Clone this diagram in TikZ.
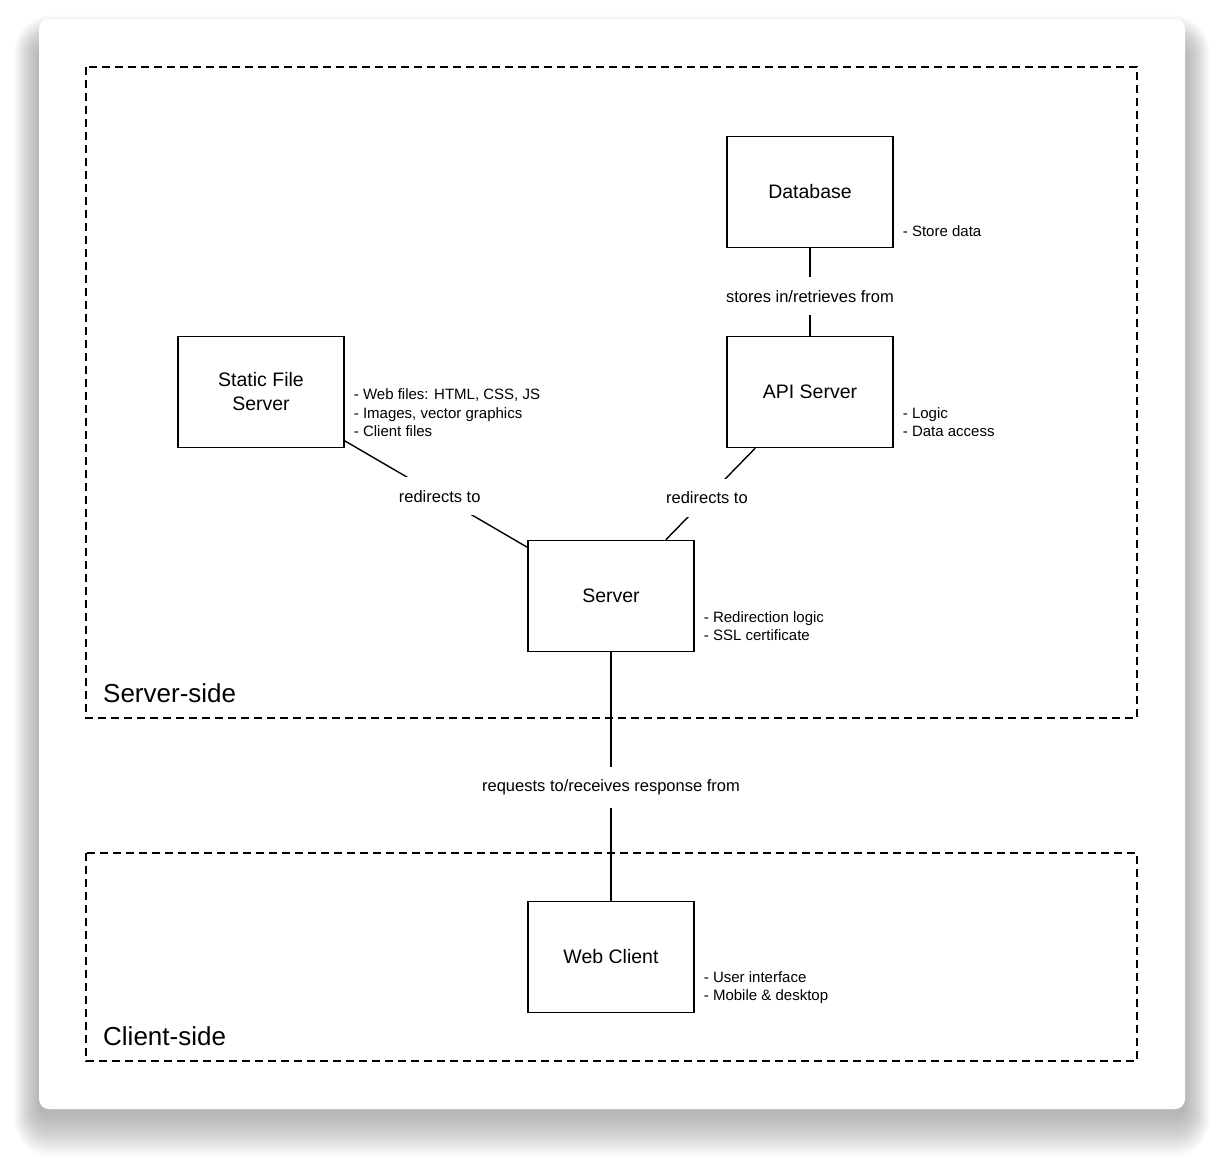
\documentclass[tikz,border=0pt]{standalone}
\usepackage{fontspec}
\setmainfont{Liberation Sans}
\usetikzlibrary{positioning}
\tikzstyle{line} = [line width=1.4pt]
\tikzstyle{boxnode} = [rectangle, draw=black, line width=1.4pt, minimum width=166pt,
minimum height=111pt, text centered, align=center, inner sep=0pt, font=\fontsize{19.5}{24}\selectfont]
\tikzstyle{note} = [anchor=south west, inner sep=0pt, align=left, font=\fontsize{15}{18.5}\selectfont]
\tikzstyle{linklabel} = [fill=white, inner xsep=2pt, inner ysep=13pt, font=\fontsize{16.5}{20}\selectfont]
\tikzstyle{region} = [draw=black, line width=1.5pt, dash pattern=on 8pt off 5pt]
\tikzstyle{regionlabel} = [anchor=base west, inner sep=0pt, font=\fontsize{26}{30}\selectfont]

\begin{document}
\begin{tikzpicture}[x=1pt, y=-1pt]
      \useasboundingbox (0,0) rectangle (1224,1168);
      % card and its shadow
      \foreach \i in {1,...,28}
        \fill [black, opacity=0.013, rounded corners=10pt+\i pt] (39-0.9*\i,46-1.1*\i) rectangle (1185+0.9*\i,1115+1.5*\i);
      \fill [white, rounded corners=10pt] (39,19) rectangle (1185,1109);

      % regions
      \draw [region] (86,67) rectangle (1137,718);
      \draw [region] (86,853) rectangle (1137,1061);
      \node (serverside) [regionlabel] at (103,702) {Server-side};
      \node (clientside) [regionlabel] at (103,1045) {Client-side};

      \node (db) [boxnode] at (810,192) {Database};
      \node (api) [boxnode] at (810,392) {API Server};
      \node (static) [boxnode] at (261,392) {Static File\\Server};
      \node (server) [boxnode] at (611,596) {Server};
      \node (client) [boxnode] at (611,957) {Web Client};

      \node (dbnote) [note] at ([shift={(9,-11)}]db.south east) {- Store data};
      \node (apinote) [note] at ([shift={(9,-11)}]api.south east) {- Logic\\- Data access};
      \node (staticnote) [note] at ([shift={(9,-11)}]static.south east) {- Web files: HTML, CSS, JS\\- Images, vector graphics\\- Client files};
      \node (servernote) [note] at ([shift={(9,-11)}]server.south east) {- Redirection logic\\- SSL certificate};
      \node (clientnote) [note] at ([shift={(9,-9)}]client.south east) {- User interface\\- Mobile \& desktop};

      \draw [line] (db) -- node [linklabel, pos=0.55] {stores in/retrieves from} (api);
      \draw [line] (static) -- node [linklabel, pos=0.52] {redirects to} (server);
      \draw [line] (api) -- node [linklabel, pos=0.54] {redirects to} (server);
      \draw [line] (server) -- node [linklabel, pos=0.545] {requests to/receives response from} (client);
    \end{tikzpicture}
\end{document}
